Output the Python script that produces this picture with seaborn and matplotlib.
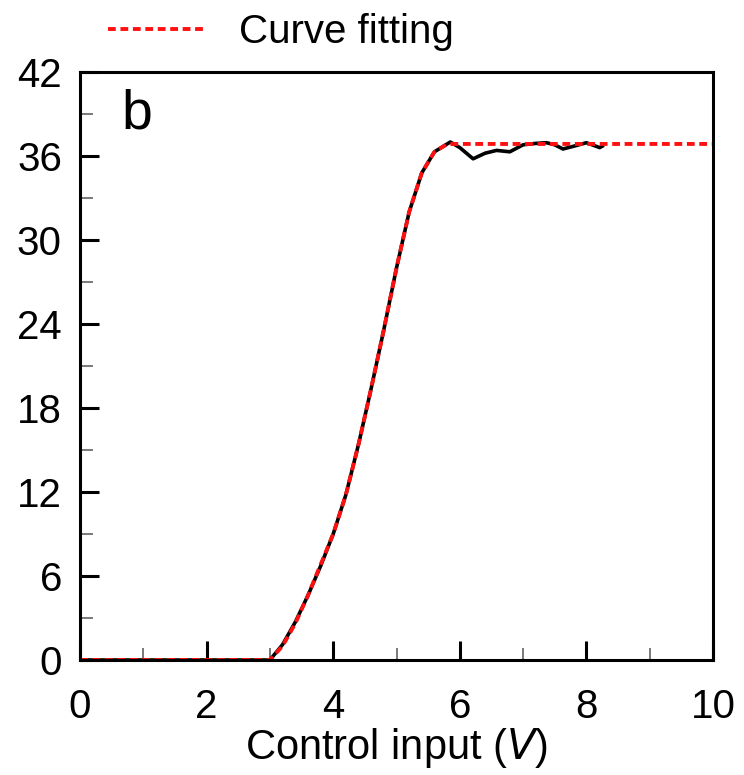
import matplotlib
matplotlib.use('Agg')
import matplotlib.pyplot as plt
from matplotlib.ticker import MultipleLocator
import pandas as pd
import seaborn as sns

# measured response (black)
meas_x = [0.0, 3.0, 3.2, 3.4, 3.6, 3.8, 4.0, 4.2, 4.4, 4.6, 4.8, 5.0, 5.2, 5.4, 5.6,
          5.85, 6.0, 6.21, 6.4, 6.58, 6.79, 7.0, 7.2, 7.37, 7.5, 7.63, 7.8, 8.0, 8.21, 8.25]
meas_y = [0.0, 0.0, 1.1, 2.7, 4.6, 6.7, 9.0, 11.8, 15.4, 19.4, 23.6, 28.0, 32.0, 34.8, 36.3,
          37.0, 36.6, 35.8, 36.2, 36.4, 36.3, 36.8, 36.9, 36.95, 36.8, 36.5, 36.7, 36.95, 36.6, 36.7]

# fitted curve (red dotted)
fit_x = [0.0, 3.0, 3.2, 3.4, 3.6, 3.8, 4.0, 4.2, 4.4, 4.6, 4.8, 5.0, 5.2, 5.4, 5.6, 5.8, 6.0, 10.0]
fit_y = [0.0, 0.0, 1.0, 2.6, 4.6, 6.8, 9.0, 11.8, 15.4, 19.4, 23.6, 28.0, 32.0, 34.8, 36.3, 36.85, 36.86, 36.86]

label_fit = 'Curve fitting'

plt.rcParams['font.family'] = ['Liberation Sans', 'DejaVu Sans']

fig = plt.figure(figsize=(7.44, 7.75), dpi=100)
ax = fig.add_axes([80 / 744, 115 / 775, 633 / 744, 588 / 775])

meas = pd.DataFrame({'x': meas_x, 'y': meas_y})
fit = pd.DataFrame({'x': fit_x, 'y': fit_y})

sns.lineplot(data=meas, x='x', y='y', color='black', linewidth=2.6, ax=ax, sort=False)
sns.lineplot(data=fit, x='x', y='y', color='#ff1010', linewidth=2.8,
             linestyle=(0, (2.0, 1.2)), ax=ax, sort=False, label=label_fit)

ax.set_xlim(0, 10)
ax.set_ylim(0, 42)
ax.xaxis.set_major_locator(MultipleLocator(2))
ax.xaxis.set_minor_locator(MultipleLocator(1))
ax.yaxis.set_major_locator(MultipleLocator(6))
ax.yaxis.set_minor_locator(MultipleLocator(3))
ax.tick_params(which='both', direction='in', top=False, right=False, labelsize=29)
ax.tick_params(axis='x', pad=20)
ax.tick_params(axis='y', pad=13)
ax.tick_params(which='major', length=14, width=2.2)
ax.tick_params(which='minor', length=9, width=1.1, color='#555555')
for s in ax.spines.values():
    s.set_linewidth(2.2)

ax.set_xlabel('Control input ($\\mathit{V}$)', fontsize=30)
ax.xaxis.set_label_coords(0.5, -0.112)
ax.set_ylabel('')
ax.text(0.066, 0.972, 'b', transform=ax.transAxes, fontsize=40, va='top', ha='left')

handles, labels = ax.get_legend_handles_labels()
ax.get_legend().remove()
fig.legend(handles, labels, loc='center left', bbox_to_anchor=(108 / 744, 1 - 32 / 775),
           frameon=False, fontsize=29, handlelength=2.4, handletextpad=0.85,
           borderpad=0, borderaxespad=0)

fig.savefig('out.png', dpi=100)
